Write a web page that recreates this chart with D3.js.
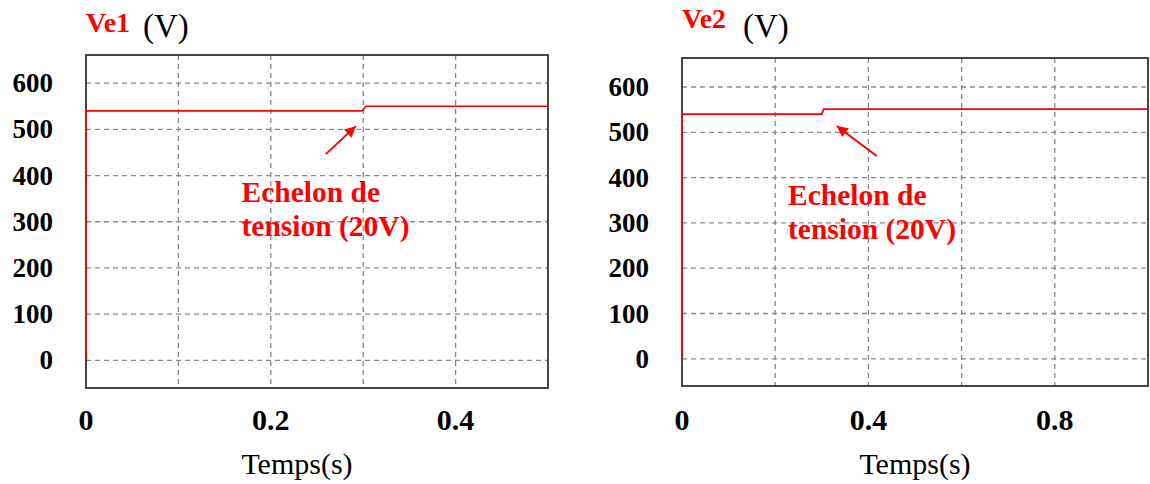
<!DOCTYPE html>
<html>
<head>
<meta charset="utf-8">
<script src="https://cdn.jsdelivr.net/npm/d3@7"></script>
<style>
  html, body { margin: 0; padding: 0; background: #fff; }
  svg { display: block; }
</style>
</head>
<body>
<svg id="chart" width="1150" height="484"></svg>
<script>
// ---- data ----
const ve1Time = [0, 0, 0.299, 0.303, 0.5];
const ve1Volt = [0, 540, 540, 550, 550];
const ve2Time = [0, 0, 0.300, 0.304, 1.0];
const ve2Volt = [0, 540, 540, 551, 551];
const yTicks = [0, 100, 200, 300, 400, 500, 600];
const ve1GridX = [0.1, 0.2, 0.3, 0.4];
const ve1LabelX = [0, 0.2, 0.4];
const ve2GridX = [0.2, 0.4, 0.6, 0.8];
const ve2LabelX = [0, 0.4, 0.8];
const titles = ["Ve1", "Ve2"];
const unitLabel = "(V)";
const xTitle = "Temps(s)";
const annotLines = ["Echelon de", "tension (20V)"];
// arrow tips (data coords)
const arrowTipT = [0.292, 0.332];
const arrowTipV = [507, 514];

const svg = d3.select("#chart");
const SERIF = "'Liberation Serif', 'Times New Roman', serif";

const panels = [
  { t: ve1Time, v: ve1Volt, xDom: [0, 0.5], yDom: [-60, 661], x0: 86, x1: 548, y0: 55, y1: 388,
    gridX: ve1GridX, labelX: ve1LabelX, title: titles[0], titleY: 32, unitX: 143, xTitleCx: 297,
    annot: [241.5, 201.7], arrowTail: [-30, 28], tip: [arrowTipT[0], arrowTipV[0]] },
  { t: ve2Time, v: ve2Volt, xDom: [0, 1.0], yDom: [-60, 664], x0: 682, x1: 1148, y0: 58, y1: 386,
    gridX: ve2GridX, labelX: ve2LabelX, title: titles[1], titleY: 28, unitX: 743, xTitleCx: 915,
    annot: [788, 205], arrowTail: [40, 30], tip: [arrowTipT[1], arrowTipV[1]] }
];

const defs = svg.append("defs");
defs.append("marker").attr("id", "ah")
  .attr("viewBox", "0 0 10 10").attr("refX", 10).attr("refY", 5)
  .attr("markerWidth", 12).attr("markerHeight", 11).attr("markerUnits", "userSpaceOnUse")
  .attr("orient", "auto")
  .append("path").attr("d", "M0,0 L10,5 L0,10 Z").attr("fill", "#ff0000");

panels.forEach(p => {
  const x = d3.scaleLinear().domain(p.xDom).range([p.x0, p.x1]);
  const y = d3.scaleLinear().domain(p.yDom).range([p.y1, p.y0]);
  const g = svg.append("g");

  // grid horizontal
  g.append("g").selectAll("line").data(yTicks).join("line")
    .attr("x1", p.x0).attr("x2", p.x1)
    .attr("y1", d => y(d)).attr("y2", d => y(d))
    .attr("stroke", "#888").attr("stroke-width", 1.3).attr("stroke-dasharray", "5,4");
  // grid vertical
  g.append("g").selectAll("line").data(p.gridX).join("line")
    .attr("x1", d => x(d)).attr("x2", d => x(d))
    .attr("y1", p.y0).attr("y2", p.y1)
    .attr("stroke", "#888").attr("stroke-width", 1.3).attr("stroke-dasharray", "5,4");

  // frame
  g.append("rect").attr("x", p.x0).attr("y", p.y0)
    .attr("width", p.x1 - p.x0).attr("height", p.y1 - p.y0)
    .attr("fill", "none").attr("stroke", "#333").attr("stroke-width", 1.8);

  // y tick labels
  g.append("g").selectAll("text").data(yTicks).join("text")
    .attr("x", p.x0 - 33).attr("y", d => y(d) + 9)
    .attr("text-anchor", "end")
    .attr("font-family", SERIF)
    .attr("font-weight", "bold").attr("font-size", 27).attr("fill", "#000")
    .text(d => d);

  // x tick labels
  g.append("g").selectAll("text").data(p.labelX).join("text")
    .attr("x", d => x(d)).attr("y", 430)
    .attr("text-anchor", "middle")
    .attr("font-family", SERIF)
    .attr("font-weight", "bold").attr("font-size", 30).attr("fill", "#000")
    .text(d => d === 0 ? "0" : d3.format(".1f")(d));

  // x title
  g.append("text").attr("x", p.xTitleCx).attr("y", 474)
    .attr("text-anchor", "middle")
    .attr("font-family", SERIF)
    .attr("font-size", 30).attr("fill", "#000")
    .text(xTitle);

  // title
  g.append("text").attr("x", p.x0).attr("y", p.titleY)
    .attr("font-family", SERIF)
    .attr("font-weight", "bold").attr("font-size", 28).attr("fill", "#ff0000")
    .text(p.title);
  g.append("text").attr("x", p.unitX).attr("y", 37)
    .attr("font-family", SERIF)
    .attr("font-size", 33).attr("fill", "#000").text(unitLabel);

  // series line
  const line = d3.line().x((d, i) => x(p.t[i])).y((d, i) => y(p.v[i]));
  g.append("path").datum(p.v).attr("d", line)
    .attr("fill", "none").attr("stroke", "#ff0000").attr("stroke-width", 1.7);

  // annotation
  const at = g.append("text")
    .attr("font-family", SERIF)
    .attr("font-weight", "bold").attr("font-size", 29.5).attr("fill", "#ff0000");
  annotLines.forEach((s, i) => {
    at.append("tspan").attr("x", p.annot[0]).attr("y", p.annot[1] + i * 34).text(s);
  });
  const tx = x(p.tip[0]), ty = y(p.tip[1]);
  g.append("line")
    .attr("x1", tx + p.arrowTail[0]).attr("y1", ty + p.arrowTail[1])
    .attr("x2", tx).attr("y2", ty)
    .attr("stroke", "#ff0000").attr("stroke-width", 2)
    .attr("marker-end", "url(#ah)");
});
</script>
</body>
</html>
